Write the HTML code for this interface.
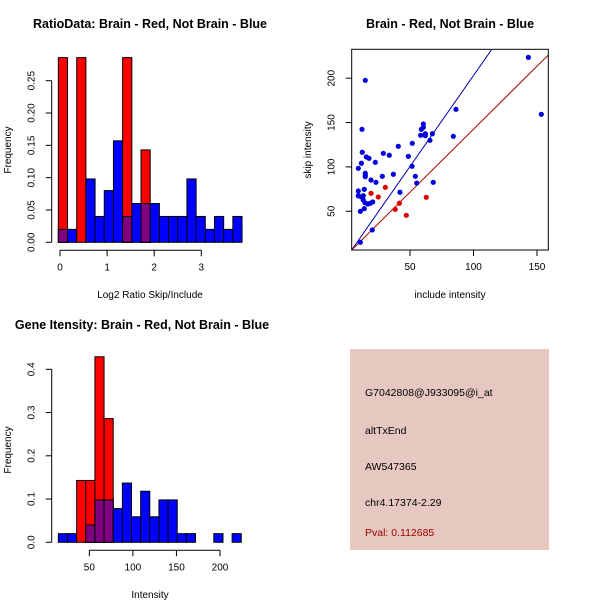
<!DOCTYPE html>
<html><head><meta charset="utf-8"><style>
body{margin:0;background:#fff}
svg{display:block;font-family:"Liberation Sans",sans-serif}
</style></head><body>
<svg id="s" width="600" height="600" xmlns="http://www.w3.org/2000/svg">
<rect x="0" y="0" width="600" height="600" fill="#fff"/>
<text x="150" y="28" text-anchor="middle" font-size="12.5" font-weight="bold">RatioData: Brain - Red, Not Brain - Blue</text>
<text x="450" y="28" text-anchor="middle" font-size="12.5" font-weight="bold">Brain - Red, Not Brain - Blue</text>
<text x="142" y="329" text-anchor="middle" font-size="12.5" font-weight="bold">Gene Itensity: Brain - Red, Not Brain - Blue</text>
<text x="150" y="298" text-anchor="middle" font-size="10">Log2 Ratio Skip/Include</text>
<text x="450" y="298" text-anchor="middle" font-size="10">include intensity</text>
<text x="150" y="598" text-anchor="middle" font-size="10">Intensity</text>
<text transform="translate(11,150) rotate(-90)" text-anchor="middle" font-size="10">Frequency</text>
<text transform="translate(311,150) rotate(-90)" text-anchor="middle" font-size="10">skip intensity</text>
<text transform="translate(11,450) rotate(-90)" text-anchor="middle" font-size="10">Frequency</text>
<g>
<rect x="350" y="349" width="199" height="201" fill="#e6c8c0"/>
<text x="365" y="396" font-size="10.5">G7042808@J933095@i_at</text>
<text x="365" y="434" font-size="10.5">altTxEnd</text>
<text x="365" y="470" font-size="10.5">AW547365</text>
<text x="365" y="506" font-size="10.5">chr4.17374-2.29</text>
<text x="365" y="536" font-size="10.5" fill="#a00000">Pval: 0.112685</text>
</g>
</svg>
<script>
const NS="http://www.w3.org/2000/svg";
const svg=document.getElementById('s');
function mk(t,a,parent){const e=document.createElementNS(NS,t);for(const k in a)e.setAttribute(k,a[k]);(parent||svg).appendChild(e);return e;}

// Ratio histogram data
const ratioBinStart=-0.035, ratioBinWidth=0.195;
const ratioBlue=[0.02,0.02,0,0.098,0.04,0.08,0.157,0.04,0.06,0.06,0.06,0.04,0.04,0.04,0.098,0.04,0.02,0.04,0.02,0.04];
const ratioRed=[0.2857,0,0.2857,0,0,0,0,0.2857,0,0.1429,0,0,0,0,0,0,0,0,0,0];
const ratioXTicks=[0,1,2,3];
const ratioYTicks=[0,0.05,0.10,0.15,0.20,0.25];
const ratioYLabels=["0.00","0.05","0.10","0.15","0.20","0.25"];

// Intensity histogram data
const intBinStart=14.4, intBinWidth=10.5;
const intBlue=[0.02,0.02,0,0.04,0.098,0.098,0.078,0.137,0.059,0.118,0.059,0.098,0.098,0.02,0.02,0,0,0.02,0,0.02];
const intRed=[0,0,0.143,0.143,0.429,0.286,0,0,0,0,0,0,0,0,0,0,0,0,0,0];
const intXTicks=[50,100,150,200];
const intYTicks=[0,0.1,0.2,0.3,0.4];
const intYLabels=["0.0","0.1","0.2","0.3","0.4"];

// Scatter data
const blueX=[143.2,153.4,14.8,86.2,84.1,12.2,60.5,60.5,58.9,58.4,62.1,62.1,67.6,65.7,40.8,51.8,29,33.7,12.4,15.6,17.7,22.7,9.3,11.7,14.8,14.8,14.8,19.3,28.2,36.9,48.7,51.6,54.2,55.3,68.3,23.2,9.3,14,9.3,11.4,13.2,13.2,14.6,16.7,18.5,20.6,14,10.9,42.1,20.3,10.9];
const blueY=[223.5,159.3,197.6,164.9,134.5,142.4,148.4,144.6,142.4,135.6,137.4,135.2,137.4,130,123.2,126.6,115.3,113.1,116.5,111.2,109.7,105.2,98.4,104.1,92.8,90.1,89,85.2,89.4,91.7,111.9,100.7,89.4,81.8,82.6,82.6,72.8,74.7,67.5,66.4,67.5,62.7,59.6,58.2,58.9,60.4,52.9,49.9,71.4,28.9,15];
const redX=[19.3,25,30.6,41.6,38.4,47.1,62.8];
const redY=[70.2,66.1,77,59,52.2,45.4,65.7];
const blueFit=[-2,2.05]; // intercept, slope
const redFit=[0.5,1.42];
const scXTicks=[50,100,150];
const scYTicks=[50,100,150,200];

function tickX(g,x,y){mk('line',{x1:x,y1:y,x2:x,y2:y+6,stroke:'#000'},g);}
function hist(name,binStart,binW,blue,red,xs,ys,xT,yT,yL){
  const g=mk('g',{});
  
  
  const X=v=>xs[0]+v*xs[1], Y=v=>ys[0]-v*ys[1];
  for(let i=0;i<blue.length;i++){
    const x0=X(binStart+i*binW), x1=X(binStart+(i+1)*binW);
    const b=blue[i], r=red[i];
    if(b>0){const e=mk('rect',{x:x0,y:Y(b),width:x1-x0,height:Y(0)-Y(b),fill:'#0000ff',stroke:'#000','stroke-width':1},g);
      
      }
    if(r>0){const e=mk('rect',{x:x0,y:Y(r),width:x1-x0,height:Y(0)-Y(r),fill:'#ff0000',stroke:'#000','stroke-width':1},g);
      
      }
    const m=Math.min(b,r);
    if(m>0){const e=mk('rect',{x:x0,y:Y(m),width:x1-x0,height:Y(0)-Y(m),fill:'#7f0080',stroke:'#000','stroke-width':1},g);
      
      }
  }
  const ay=ys[0]+8;
  mk('line',{x1:X(xT[0]),y1:ay,x2:X(xT[xT.length-1]),y2:ay,stroke:'#000'},g);
  xT.forEach(t=>{tickX(g,X(t),ay);const e=mk('text',{x:X(t),y:ay+20,'text-anchor':'middle','font-size':10},g);e.textContent=t;
    
    });
  const ax=51.7;
  mk('line',{x1:ax,y1:Y(yT[0]),x2:ax,y2:Y(yT[yT.length-1]),stroke:'#000'},g);
  yT.forEach((t,i)=>{mk('line',{x1:ax-6,y1:Y(t),x2:ax,y2:Y(t),stroke:'#000'},g);
    const e=mk('text',{transform:`translate(${ax-17},${Y(t)}) rotate(-90)`,'text-anchor':'middle','font-size':10},g);e.textContent=yL[i];
    
    });
}
hist('ratio-histogram',ratioBinStart,ratioBinWidth,ratioBlue,ratioRed,[60,47.1],[242.3,646.4],ratioXTicks,ratioYTicks,ratioYLabels);
hist('intensity-histogram',intBinStart,intBinWidth,intBlue,intRed,[45.8,0.871],[542.3,432.5],intXTicks,intYTicks,intYLabels);

(function(){
  const g=mk('g',{});
  
  
  const SX=v=>346.5+v*1.27, SY=v=>255.6-v*0.887;
  const L=351.7,R=548.3,T=49.3,B=250;
  const cp=mk('clipPath',{id:'cp'},g);mk('rect',{x:L,y:T,width:R-L,height:B-T},cp);
  const lg=mk('g',{'clip-path':'url(#cp)'},g);
  const fitLine=(f,col,name)=>{const x0=0,x1=200;
    const e=mk('line',{x1:SX(x0),y1:SY(f[0]+f[1]*x0),x2:SX(x1),y2:SY(f[0]+f[1]*x1),stroke:col,'stroke-width':1},lg);
    
    };
  fitLine(blueFit,'#0000aa','blue-fit-line');
  fitLine(redFit,'#aa0000','red-fit-line');
  blueX.forEach((v,i)=>{const e=mk('circle',{cx:SX(v),cy:SY(blueY[i]),r:2.6,fill:'#0000dd'},g);
    
    });
  redX.forEach((v,i)=>{const e=mk('circle',{cx:SX(v),cy:SY(redY[i]),r:2.6,fill:'#dd0000'},g);
    
    });
  mk('rect',{x:L,y:T,width:R-L,height:B-T,fill:'none',stroke:'#000'},g);
  scXTicks.forEach(t=>{tickX(g,SX(t),B);const e=mk('text',{x:SX(t),y:B+20,'text-anchor':'middle','font-size':10},g);e.textContent=t;
    
    });
  scYTicks.forEach(t=>{mk('line',{x1:L-6,y1:SY(t),x2:L,y2:SY(t),stroke:'#000'},g);
    const e=mk('text',{transform:`translate(${L-17},${SY(t)}) rotate(-90)`,'text-anchor':'middle','font-size':10},g);e.textContent=t;
    
    });
})();
</script>
</body></html>
